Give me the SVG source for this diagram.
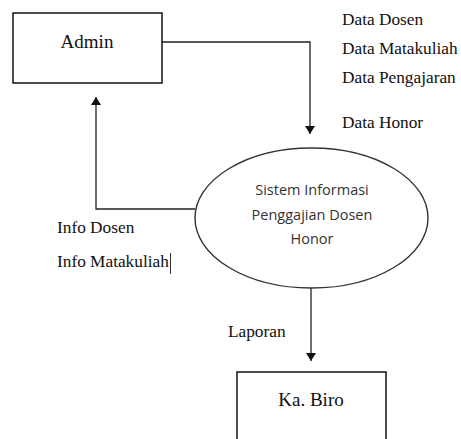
<svg xmlns="http://www.w3.org/2000/svg" width="461" height="439" viewBox="0 0 461 439">
  <style>
    .box { fill: #fff; stroke: #111; stroke-width: 1.5; }
    .proc { fill: #fff; stroke: #333; stroke-width: 1.4; }
    .conn { fill: none; stroke: #222; stroke-width: 1.3; }
    .lbl { font-family: "Liberation Serif", "Times New Roman", serif; font-size: 17.3px; fill: #111; }
    .ent { font-family: "Liberation Serif", "Times New Roman", serif; font-size: 19px; fill: #111; text-anchor: middle; }
    .ptxt { font-family: "Open Sans", "Noto Sans", sans-serif; font-size: 14.5px; fill: #333; text-anchor: middle; }
  </style>
  <defs>
    <marker id="arr" markerWidth="8" markerHeight="10" refX="8" refY="5" orient="auto" markerUnits="userSpaceOnUse">
      <path d="M0,0 L8,5 L0,10 Z" fill="#111"/>
    </marker>
  </defs>
  <rect width="461" height="439" fill="#fff"/>

  <g id="connectors">
    <polyline class="conn" points="162,42 310,42 310,134" marker-end="url(#arr)"/>
    <polyline class="conn" points="195,209 96,209 96,97" marker-end="url(#arr)"/>
    <line class="conn" x1="311" y1="287" x2="311" y2="361" marker-end="url(#arr)"/>
    <text class="lbl" x="342" y="25">Data Dosen</text>
    <text class="lbl" x="342" y="54">Data Matakuliah</text>
    <text class="lbl" x="342" y="83">Data Pengajaran</text>
    <text class="lbl" x="342" y="128">Data Honor</text>
    <text class="lbl" x="57" y="233">Info Dosen</text>
    <text class="lbl" x="57" y="267">Info Matakuliah</text>
    <line x1="170.5" y1="253" x2="170.5" y2="274" stroke="#333" stroke-width="1"/>
    <text class="lbl" x="228" y="337">Laporan</text>
  </g>

  <g id="admin">
    <rect class="box" x="13" y="13" width="149" height="70"/>
    <text class="ent" x="87" y="48">Admin</text>
  </g>

  <g id="sistem">
    <ellipse class="proc" cx="311.5" cy="218" rx="116.5" ry="70"/>
    <text class="ptxt" x="312" y="195">Sistem Informasi</text>
    <text class="ptxt" x="312" y="220">Penggajian Dosen</text>
    <text class="ptxt" x="312" y="244">Honor</text>
  </g>

  <g id="kabiro">
    <rect class="box" x="237" y="372" width="149" height="80"/>
    <text class="ent" x="311" y="406">Ka. Biro</text>
  </g>
</svg>
